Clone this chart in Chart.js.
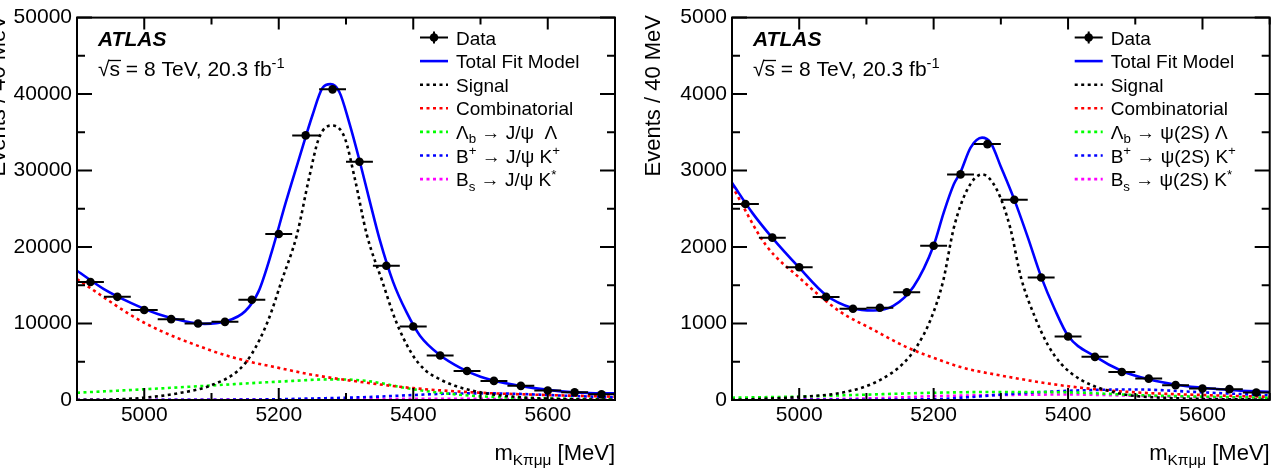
<!DOCTYPE html>
<html>
<head>
<meta charset="utf-8">
<script src="https://cdn.jsdelivr.net/npm/chart.js@4.4.0/dist/chart.umd.min.js"></script>
<style>
  html, body { margin: 0; padding: 0; background: #fff; }
  #wrap { position: relative; width: 1274px; height: 476px; overflow: hidden; }
  canvas { position: absolute; top: 0; }
</style>
</head>
<body>
<div id="wrap">
  <canvas id="left_chart" width="637" height="476" style="left:0"></canvas>
  <canvas id="right_chart" width="637" height="476" style="left:637px"></canvas>
</div>
<script>
// bins are 40 MeV wide
const bin_centers = [4920, 4960, 5000, 5040, 5080, 5120, 5160, 5200, 5240, 5280,
                     5320, 5360, 5400, 5440, 5480, 5520, 5560, 5600, 5640, 5680];
const bin_half = 20;
const x_major = [5000, 5200, 5400, 5600];
const x_minor = [4900, 5100, 5300, 5500, 5700];

// ---- J/psi channel (left) ----
const jpsi_data = [15430, 13490, 11770, 10570, 10000, 10220, 13100, 21700, 34600, 40620,
                   31150, 17550, 9610, 5820, 3790, 2500, 1850, 1250, 1000, 740];
const jpsi_fit_x = [4900, 4940, 4980, 5020, 5060, 5090, 5120, 5150, 5170, 5190, 5210, 5230, 5250, 5265, 5277,
                    5290, 5305, 5320, 5335, 5350, 5370, 5390, 5410, 5440, 5470, 5500, 5540, 5580, 5620, 5660, 5700];
const jpsi_fit_y = [16900, 14500, 12700, 11250, 10300, 9950, 10250, 11600, 14200, 19500, 25700, 31500, 37200, 40800, 41300,
                    40300, 36200, 31350, 26100, 21000, 15450, 11480, 8400, 5850, 4200, 3050, 2150, 1550, 1130, 920, 870];
const jpsi_sig_x = [4900, 4960, 5000, 5050, 5100, 5140, 5160, 5184, 5204, 5227, 5245, 5260, 5279,
                    5298, 5313, 5331, 5354, 5374, 5398, 5418, 5440, 5462, 5508, 5560, 5620, 5700];
const jpsi_sig_y = [0, 80, 300, 870, 1940, 3880, 6040, 10350, 15500, 21600, 29000, 34300, 35900,
                    34300, 29000, 21600, 15500, 10350, 6040, 3880, 2700, 1850, 870, 350, 120, 30];
const jpsi_comb_x = [4900, 5000, 5100, 5150, 5200, 5250, 5310, 5400, 5500, 5600, 5700];
const jpsi_comb_y = [15800, 10100, 6450, 5150, 4200, 3300, 2500, 1550, 950, 650, 430];
const jpsi_lb_x = [4900, 5000, 5100, 5200, 5280, 5330, 5400, 5450, 5500, 5600, 5700];
const jpsi_lb_y = [950, 1400, 1900, 2400, 2700, 2500, 1400, 850, 480, 200, 80];
const jpsi_bp_x = [4900, 5100, 5200, 5250, 5300, 5350, 5400, 5450, 5500, 5550, 5600, 5650, 5700];
const jpsi_bp_y = [0, 30, 100, 200, 300, 450, 650, 820, 870, 820, 650, 480, 350];
const jpsi_bs_x = [4900, 5200, 5350, 5450, 5550, 5700];
const jpsi_bs_y = [20, 60, 130, 160, 120, 60];
const jpsi_y_major = [0, 10000, 20000, 30000, 40000, 50000];
const jpsi_y_minor = [5000, 15000, 25000, 35000, 45000];

// ---- psi(2S) channel (right) ----
const psi_data = [2562, 2123, 1735, 1348, 1193, 1206, 1408, 2016, 2950, 3346,
                  2619, 1602, 831, 564, 366, 280, 194, 151, 142, 99];
const psi_fit_x = [4900, 4930, 4960, 5000, 5040, 5080, 5110, 5140, 5170, 5200, 5215, 5230, 5240, 5255, 5272,
                   5285, 5300, 5320, 5340, 5360, 5380, 5400, 5440, 5480, 5520, 5560, 5600, 5640, 5700];
const psi_fit_y = [2840, 2450, 2120, 1730, 1370, 1200, 1170, 1230, 1480, 2020, 2450, 2820, 2980, 3300, 3430,
                   3360, 3050, 2620, 2130, 1610, 1190, 840, 570, 380, 270, 200, 160, 130, 105];
const psi_sig_x = [4900, 5000, 5070, 5120, 5155, 5175, 5195, 5214, 5230, 5250, 5272,
                   5294, 5314, 5330, 5350, 5370, 5390, 5420, 5474, 5540, 5700];
const psi_sig_y = [0, 40, 107, 260, 480, 700, 1040, 1550, 2250, 2750, 2950,
                   2750, 2250, 1600, 1100, 720, 470, 260, 90, 30, 5];
const psi_comb_x = [4900, 4950, 5000, 5060, 5110, 5160, 5210, 5240, 5300, 5400, 5500, 5600, 5700];
const psi_comb_y = [2800, 2030, 1600, 1160, 920, 690, 520, 430, 320, 180, 100, 65, 42];
const psi_lb_x = [4900, 5000, 5100, 5200, 5300, 5400, 5500, 5600, 5700];
const psi_lb_y = [30, 45, 70, 95, 105, 100, 65, 43, 30];
const psi_bp_x = [4900, 5200, 5250, 5300, 5400, 5500, 5600, 5700];
const psi_bp_y = [0, 10, 35, 70, 120, 138, 100, 60];
const psi_bs_x = [4900, 5100, 5200, 5300, 5400, 5500, 5600, 5700];
const psi_bs_y = [5, 20, 50, 65, 72, 55, 35, 20];
const psi_y_major = [0, 1000, 2000, 3000, 4000, 5000];
const psi_y_minor = [500, 1500, 2500, 3500, 4500];

// legend text, [text, mode]  mode 0 normal, 1 subscript, 2 superscript
const jpsi_labels = [
  [["Data", 0]],
  [["Total Fit Model", 0]],
  [["Signal", 0]],
  [["Combinatorial", 0]],
  [["Λ", 0], ["b", 1], [" → J/ψ  Λ", 0]],
  [["B", 0], ["+", 2], [" → J/ψ K", 0], ["+", 2]],
  [["B", 0], ["s", 1], [" → J/ψ K", 0], ["*", 2]],
];
const psi_labels = [
  [["Data", 0]],
  [["Total Fit Model", 0]],
  [["Signal", 0]],
  [["Combinatorial", 0]],
  [["Λ", 0], ["b", 1], [" → ψ(2S) Λ", 0]],
  [["B", 0], ["+", 2], [" → ψ(2S) K", 0], ["+", 2]],
  [["B", 0], ["s", 1], [" → ψ(2S) K", 0], ["*", 2]],
];
const y_title = "Events / 40 MeV";
const x_title = [["m", 0], ["Kπμμ", 1], [" [MeV]", 0]];

const FAMILY = '"Liberation Sans", Arial, Helvetica, sans-serif';
Chart.defaults.font.family = FAMILY;

function font_for(size, style) {
  return (style || "") + " " + size + "px " + FAMILY;
}

function rich_width(ctx, parts, size) {
  let w = 0;
  for (const [t, mode] of parts) {
    ctx.font = font_for(mode ? size * 0.7 : size);
    w += ctx.measureText(t).width;
  }
  return w;
}

function draw_rich(ctx, parts, x, y, size) {
  let cx = x;
  for (const [t, mode] of parts) {
    const s = mode ? size * 0.7 : size;
    const dy = mode === 1 ? size * 0.24 : mode === 2 ? -size * 0.38 : 0;
    ctx.font = font_for(s);
    ctx.fillText(t, cx, y + dy);
    cx += ctx.measureText(t).width;
  }
  return cx;
}

function pts(xs, ys) {
  return xs.map((x, i) => ({ x: x, y: ys[i] }));
}

function curve(label, xs, ys, color, dashed) {
  return {
    label: label,
    data: pts(xs, ys),
    borderColor: color,
    borderWidth: 2.6,
    borderDash: dashed ? [3, 3.5] : [],
    pointRadius: 0,
    fill: false,
    cubicInterpolationMode: "monotone",
  };
}

function make_overlay(panel) {
  return {
    id: "overlay_" + panel.id,
    afterDatasetsDraw(chart) {
      // horizontal error bars of the data points
      const ctx = chart.ctx, a = chart.chartArea;
      const xs = chart.scales.x, ys = chart.scales.y;
      ctx.save();
      ctx.beginPath();
      ctx.rect(a.left, a.top, a.right - a.left, a.bottom - a.top);
      ctx.clip();
      ctx.strokeStyle = "#000";
      ctx.lineWidth = 2;
      ctx.beginPath();
      bin_centers.forEach((c, i) => {
        const py = ys.getPixelForValue(panel.data[i]);
        ctx.moveTo(xs.getPixelForValue(c - bin_half), py);
        ctx.lineTo(xs.getPixelForValue(c + bin_half), py);
      });
      ctx.stroke();
      ctx.restore();
    },
    afterDraw(chart) {
      const ctx = chart.ctx, a = chart.chartArea;
      const xs = chart.scales.x, ys = chart.scales.y;
      ctx.save();
      // frame
      ctx.strokeStyle = "#000";
      ctx.lineWidth = 2;
      ctx.strokeRect(a.left, a.top, a.right - a.left, a.bottom - a.top);
      // inward ticks on all four sides
      ctx.beginPath();
      const x_tick = (v, len) => {
        const px = xs.getPixelForValue(v);
        ctx.moveTo(px, a.bottom); ctx.lineTo(px, a.bottom - len);
        ctx.moveTo(px, a.top); ctx.lineTo(px, a.top + len);
      };
      const y_tick = (v, len) => {
        const py = ys.getPixelForValue(v);
        ctx.moveTo(a.left, py); ctx.lineTo(a.left + len, py);
        ctx.moveTo(a.right, py); ctx.lineTo(a.right - len, py);
      };
      x_major.forEach(v => x_tick(v, 12));
      x_minor.forEach(v => x_tick(v, 7));
      panel.y_major.forEach(v => y_tick(v, 15));
      panel.y_minor.forEach(v => y_tick(v, 8));
      ctx.stroke();

      ctx.fillStyle = "#000";
      ctx.textBaseline = "alphabetic";
      ctx.textAlign = "left";

      // ATLAS label
      const lx = a.left + 21;
      ctx.font = font_for(21, "italic bold");
      ctx.fillText("ATLAS", lx, 46);
      ctx.font = font_for(21);
      ctx.fillText("√", lx, 76);
      const rw = ctx.measureText("√").width;
      const sw = ctx.measureText("s").width;
      ctx.lineWidth = 1.3;
      ctx.beginPath();
      ctx.moveTo(lx + rw - 1, 60.5);
      ctx.lineTo(lx + rw + sw + 1, 60.5);
      ctx.stroke();
      draw_rich(ctx, [["s = 8 TeV, 20.3 fb", 0], ["-1", 2]], lx + rw, 76, 21);

      // legend
      const sx0 = a.right - 195, sx1 = a.right - 167, tx = a.right - 159;
      const datasets = chart.data.datasets;
      panel.labels.forEach((parts, i) => {
        const y = 37.5 + i * 23.6;
        const ds = datasets[i];
        ctx.save();
        if (i === 0) {
          ctx.strokeStyle = "#000";
          ctx.lineWidth = 2;
          ctx.beginPath();
          ctx.moveTo(sx0, y); ctx.lineTo(sx1, y);
          const mx = (sx0 + sx1) / 2;
          ctx.moveTo(mx, y - 6); ctx.lineTo(mx, y + 6);
          ctx.stroke();
          ctx.beginPath();
          ctx.arc(mx, y, 4.3, 0, Math.PI * 2);
          ctx.fill();
        } else {
          ctx.strokeStyle = ds.borderColor;
          ctx.lineWidth = ds.borderWidth;
          ctx.setLineDash(ds.borderDash);
          ctx.beginPath();
          ctx.moveTo(sx0, y); ctx.lineTo(sx1, y);
          ctx.stroke();
        }
        ctx.restore();
        ctx.fillStyle = "#000";
        draw_rich(ctx, parts, tx, y + 7, 19);
      });

      // x axis title, right aligned to the frame
      const w = rich_width(ctx, x_title, 22);
      draw_rich(ctx, x_title, a.right - w, 460, 22);

      // y axis title, rotated, aligned to the top
      ctx.save();
      ctx.translate(a.left - 72, 15);
      ctx.rotate(-Math.PI / 2);
      ctx.font = font_for(22);
      ctx.textAlign = "right";
      ctx.fillText(y_title, 0, 0);
      ctx.restore();

      ctx.restore();
    },
  };
}

function build_panel(canvas_id, panel) {
  const datasets = [
    {
      label: "Data",
      data: pts(bin_centers, panel.data),
      showLine: false,
      pointRadius: 4.3,
      pointBackgroundColor: "#000",
      pointBorderWidth: 0,
    },
    curve("Total Fit Model", panel.fit_x, panel.fit_y, "#0000ff", false),
    curve("Signal", panel.sig_x, panel.sig_y, "#000000", true),
    curve("Combinatorial", panel.comb_x, panel.comb_y, "#ff0000", true),
    curve("Lambda_b", panel.lb_x, panel.lb_y, "#00ff00", true),
    curve("B+", panel.bp_x, panel.bp_y, "#0000ff", true),
    curve("Bs", panel.bs_x, panel.bs_y, "#ff00ff", true),
  ];
  const ctx = document.getElementById(canvas_id).getContext("2d");
  return new Chart(ctx, {
    type: "line",
    data: { datasets: datasets },
    options: {
      responsive: false,
      animation: false,
      events: [],
      layout: { padding: { left: 0, right: panel.pad_right, top: 13, bottom: 0 } },
      plugins: { legend: { display: false }, tooltip: { enabled: false } },
      scales: {
        x: {
          type: "linear",
          min: 4900,
          max: 5700,
          afterBuildTicks: (s) => { s.ticks = x_major.map(v => ({ value: v })); },
          afterFit: (s) => { s.height = 76; },
          grid: { display: false, drawTicks: false },
          border: { display: false },
          ticks: { color: "#000", font: { size: 21 }, padding: 3, autoSkip: false, maxRotation: 0,
                   callback: (v) => String(v) },
        },
        y: {
          type: "linear",
          min: 0,
          max: panel.y_max,
          afterBuildTicks: (s) => { s.ticks = panel.y_major.map(v => ({ value: v })); },
          afterFit: (s) => { s.width = panel.y_width; },
          grid: { display: false, drawTicks: false },
          border: { display: false },
          ticks: { color: "#000", font: { size: 21 }, padding: 5, autoSkip: false,
                   callback: (v) => String(v) },
        },
      },
    },
    plugins: [make_overlay(panel)],
  });
}

build_panel("left_chart", {
  id: "jpsi", data: jpsi_data,
  fit_x: jpsi_fit_x, fit_y: jpsi_fit_y, sig_x: jpsi_sig_x, sig_y: jpsi_sig_y,
  comb_x: jpsi_comb_x, comb_y: jpsi_comb_y, lb_x: jpsi_lb_x, lb_y: jpsi_lb_y,
  bp_x: jpsi_bp_x, bp_y: jpsi_bp_y, bs_x: jpsi_bs_x, bs_y: jpsi_bs_y,
  y_max: 50000, y_major: jpsi_y_major, y_minor: jpsi_y_minor,
  labels: jpsi_labels, y_width: 77, pad_right: 22,
});

build_panel("right_chart", {
  id: "psi", data: psi_data,
  fit_x: psi_fit_x, fit_y: psi_fit_y, sig_x: psi_sig_x, sig_y: psi_sig_y,
  comb_x: psi_comb_x, comb_y: psi_comb_y, lb_x: psi_lb_x, lb_y: psi_lb_y,
  bp_x: psi_bp_x, bp_y: psi_bp_y, bs_x: psi_bs_x, bs_y: psi_bs_y,
  y_max: 5000, y_major: psi_y_major, y_minor: psi_y_minor,
  labels: psi_labels, y_width: 95, pad_right: 3,
});
</script>
</body>
</html>
